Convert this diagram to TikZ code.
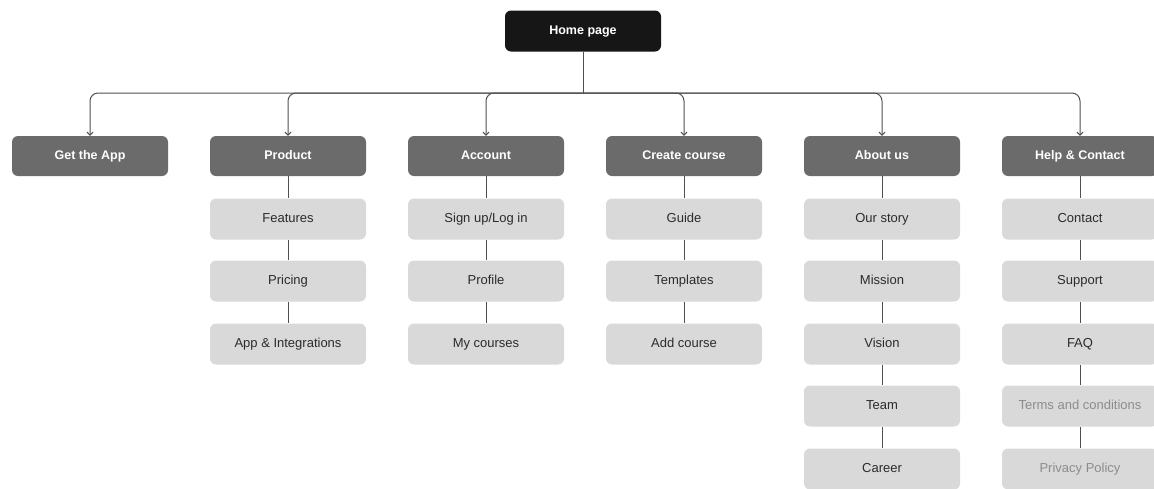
\documentclass[tikz,border=0pt]{standalone}
\usepackage{fontspec}
\setmainfont{Liberation Sans}
\usetikzlibrary{arrows.meta}
\definecolor{topc}{HTML}{161616}
\definecolor{midc}{HTML}{6B6B6B}
\definecolor{subc}{HTML}{D9D9D9}
\definecolor{linec}{HTML}{505050}
\definecolor{textc}{HTML}{2B2B2B}
\definecolor{fadec}{HTML}{8C8C8C}
\begin{document}
\begin{tikzpicture}[x=1pt,y=-1pt,
    box/.style={rounded corners=6pt,minimum width=156pt,minimum height=40pt,inner sep=0pt,
        text height=9pt,text depth=2.5pt},
    homebox/.style={box,minimum height=41pt,fill=topc,text=white,font=\bfseries\fontsize{12.5}{15}\selectfont},
    secbox/.style={box,fill=midc,text=white,font=\bfseries\fontsize{12.5}{15}\selectfont},
    pagebox/.style={box,minimum height=41pt,fill=subc,text=textc,font=\fontsize{13}{15}\selectfont},
    fadebox/.style={pagebox,text=fadec},
    link/.style={draw=linec,line width=1pt},
    branch/.style={link,rounded corners=8pt,-{Straight Barb[length=3pt,width=6pt]}}]
    \useasboundingbox (0,0) rectangle (1154,488);

        \node[homebox] (H) at (583,31) {Home page};
        \coordinate (bus) at (583,93);

        \node[secbox] (A) at (90,156) {Get the App};
        \node[secbox] (B) at (288,156) {Product};
        \node[secbox] (C) at (486,156) {Account};
        \node[secbox] (D) at (684,156) {Create course};
        \node[secbox] (E) at (882,156) {About us};
        \node[secbox] (F) at (1080,156) {Help \& Contact};

        \node[pagebox] (B1) at (288,219) {Features};
        \node[pagebox] (B2) at (288,281) {Pricing};
        \node[pagebox] (B3) at (288,344) {App \& Integrations};

        \node[pagebox] (C1) at (486,219) {Sign up/Log in};
        \node[pagebox] (C2) at (486,281) {Profile};
        \node[pagebox] (C3) at (486,344) {My courses};

        \node[pagebox] (D1) at (684,219) {Guide};
        \node[pagebox] (D2) at (684,281) {Templates};
        \node[pagebox] (D3) at (684,344) {Add course};

        \node[pagebox] (E1) at (882,219) {Our story};
        \node[pagebox] (E2) at (882,281) {Mission};
        \node[pagebox] (E3) at (882,344) {Vision};
        \node[pagebox] (E4) at (882,406) {Team};
        \node[pagebox] (E5) at (882,469) {Career};

        \node[pagebox] (F1) at (1080,219) {Contact};
        \node[pagebox] (F2) at (1080,281) {Support};
        \node[pagebox] (F3) at (1080,344) {FAQ};
        \node[fadebox] (F4) at (1080,406) {Terms and conditions};
        \node[fadebox] (F5) at (1080,469) {Privacy Policy};

            \draw[link] (H) -- (bus);
            \foreach \s in {A,B,C,D,E,F}
                \draw[branch] (bus) -| (\s.north);
            \draw[link] (B) -- (B1) -- (B2) -- (B3);
            \draw[link] (C) -- (C1) -- (C2) -- (C3);
            \draw[link] (D) -- (D1) -- (D2) -- (D3);
            \draw[link] (E) -- (E1) -- (E2) -- (E3) -- (E4) -- (E5);
            \draw[link] (F) -- (F1) -- (F2) -- (F3) -- (F4) -- (F5);

    \end{tikzpicture}
\end{document}
